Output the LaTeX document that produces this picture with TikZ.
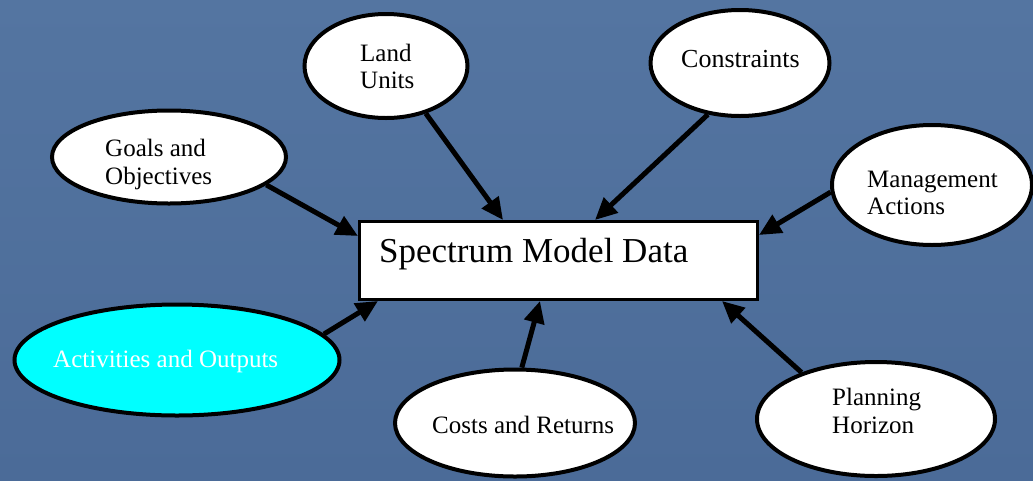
\documentclass[tikz,border=0pt]{standalone}
\usepackage{fontspec}
\setmainfont{Liberation Serif}
\usetikzlibrary{arrows.meta,shapes.geometric,calc}
\definecolor{bgtop}{HTML}{5475A1}
\definecolor{bgbot}{HTML}{4B6B98}
\definecolor{actcyan}{HTML}{00FFFF}
\begin{document}
\begin{tikzpicture}[x=1pt,y=-1pt,
  bubble/.style={ellipse,draw=black,line width=4pt,fill=white,inner sep=0pt},
  lbl/.style={anchor=base west,inner sep=0pt,font=\fontsize{25}{28}\selectfont,text=black},
  link/.style={line width=5pt,-{Triangle[length=22pt,width=20pt]}}]
\shade[top color=bgtop,bottom color=bgbot] (0,0) rectangle (1033,480);
\useasboundingbox (0,0) rectangle (1033,480);
% central box
\node[draw=black,line width=3pt,fill=white,minimum width=398pt,minimum height=78pt,inner sep=0pt] (box) at (558.5,260.5) {};
\node[lbl,font=\fontsize{35}{40}\selectfont] (boxT) at (379,262) {Spectrum Model Data};
% ellipses
\node[bubble,minimum width=163pt,minimum height=104pt] (land) at (386,66) {};
\node[bubble,minimum width=179pt,minimum height=106pt] (cons) at (740,63) {};
\node[bubble,minimum width=234pt,minimum height=93pt] (goals) at (169,157) {};
\node[bubble,minimum width=200pt,minimum height=120pt] (mgmt) at (932,185) {};
\node[bubble,fill=actcyan,minimum width=325pt,minimum height=111pt] (act) at (177,360) {};
\node[bubble,minimum width=240pt,minimum height=107pt] (costs) at (515,423) {};
\node[bubble,minimum width=238pt,minimum height=114pt] (plan) at (876,419) {};
% labels
\node[lbl] (landA) at (360,61) {Land};
\node[lbl] (landB) at (360,88) {Units};
\node[lbl,font=\fontsize{26}{29}\selectfont] (consA) at (681,67) {Constraints};
\node[lbl] (goalsA) at (105,156) {Goals and};
\node[lbl] (goalsB) at (105,184) {Objectives};
\node[lbl] (mgmtA) at (867,187) {Management};
\node[lbl] (mgmtB) at (867,214) {Actions};
\node[lbl,text=white] (actA) at (53,367) {Activities and Outputs};
\node[lbl] (costsA) at (432,433) {Costs and Returns};
\node[lbl] (planA) at (832,405) {Planning};
\node[lbl] (planB) at (832,433) {Horizon};
% end points on the box
\coordinate (eGoals) at ($(box.north west)+(0,16)$);
\coordinate (eLand) at ($(box.north west)+(145,0)$);
\coordinate (eCons) at ($(box.north west)+(237,0)$);
\coordinate (eMgmt) at ($(box.north east)+(0,15)$);
\coordinate (eAct) at ($(box.south west)+(20,0)$);
\coordinate (eCosts) at ($(box.south west)+(182,0)$);
\coordinate (ePlan) at ($(box.south west)+(364,0)$);
% connectors
\draw[link] (goals.-16) -- (eGoals);
\draw[link] (land.-50) -- (eLand);
\draw[link] (cons.-122) -- (eCons);
\draw[link] (mgmt.184) -- (eMgmt);
\draw[link] (act.10) -- (eAct);
\draw[link] (costs.83) -- (eCosts);
\draw[link] (plan.148) -- (ePlan);
\end{tikzpicture}
\end{document}
